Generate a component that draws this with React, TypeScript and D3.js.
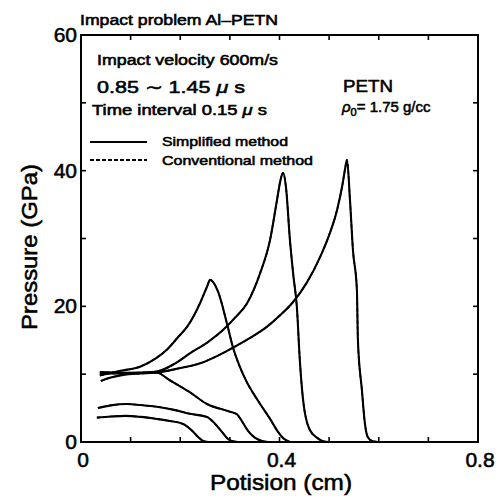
import React from "react";
import * as d3 from "d3";

// Pressure profiles (position cm, pressure GPa) at successive times, 0.85 ~ 1.45 us
const curveA: [number, number][] = [
  [0.032, 3.6], [0.06, 3.75], [0.09, 3.85], [0.12, 3.7], [0.153, 3.4], [0.179, 3.1],
  [0.206, 2.65], [0.224, 1.65], [0.236, 0.75], [0.246, 0.15], [0.256, 0],
];
const curveB: [number, number][] = [
  [0.034, 5.0], [0.06, 5.4], [0.093, 5.6], [0.12, 5.45], [0.153, 5.2], [0.19, 4.7],
  [0.22, 4.15], [0.254, 3.7], [0.27, 2.7], [0.284, 1.5], [0.296, 0.45], [0.306, 0.1], [0.316, 0],
];
const curveC: [number, number][] = [
  [0.04, 9.0], [0.06, 9.5], [0.085, 9.9], [0.12, 10.1], [0.153, 10.2], [0.179, 9.1],
  [0.22, 7.3], [0.254, 5.6], [0.294, 4.6], [0.314, 4.1], [0.324, 3.1], [0.337, 1.6],
  [0.351, 0.6], [0.365, 0.15], [0.377, 0],
];
const curveD: [number, number][] = [
  [0.038, 9.8], [0.08, 10.5], [0.119, 11.1], [0.15, 12.3], [0.173, 13.6], [0.195, 15.4],
  [0.214, 17.0], [0.228, 18.7], [0.24, 20.5], [0.254, 22.9], [0.26, 23.9], [0.276, 22.2],
  [0.294, 17.5], [0.306, 14.0], [0.32, 11.1], [0.335, 8.7], [0.347, 7.2],
  [0.361, 5.6], [0.381, 3.4], [0.397, 1.5], [0.407, 0.6], [0.421, 0],
];
const curveE: [number, number][] = [
  [0.038, 10.1], [0.09, 10.1], [0.153, 10.4], [0.19, 11.6], [0.22, 13.1], [0.255, 14.7],
  [0.286, 16.5], [0.31, 18.3], [0.335, 20.5], [0.361, 24.9], [0.381, 29.8], [0.395, 35.7],
  [0.402, 38.6], [0.407, 39.7], [0.413, 37.6], [0.421, 29.8], [0.428, 24.5], [0.435, 19.9],
  [0.441, 12.0], [0.445, 8.1], [0.45, 4.8], [0.455, 3.0], [0.461, 1.8], [0.476, 0.6],
  [0.486, 0.15], [0.498, 0],
];
const curveF: [number, number][] = [
  [0.038, 10.3], [0.09, 10.2], [0.153, 10.3], [0.2, 10.9], [0.24, 11.6], [0.275, 12.7],
  [0.306, 13.9], [0.34, 15.3], [0.375, 17.0], [0.4, 18.6], [0.427, 20.6], [0.455, 23.5],
  [0.482, 27.3], [0.5, 30.5], [0.516, 34.2], [0.527, 38.0], [0.532, 40.2],
  [0.536, 41.6], [0.542, 35.7], [0.548, 28.3], [0.556, 22.4], [0.558, 15.0], [0.566, 7.7],
  [0.572, 2.8], [0.578, 0.7], [0.588, 0.1], [0.598, 0],
];
const simplifiedSeries = [curveA, curveB, curveC, curveD, curveE, curveF];
const conventionalSeries = [curveA, curveB, curveC, curveD, curveE, curveF];

const xTickValues = [0, 0.1, 0.2, 0.3, 0.4, 0.5, 0.6, 0.7, 0.8];
const xTickLabels = ["0", "0.4", "0.8"];
const yTickValues = [0, 10, 20, 30, 40, 50, 60];
const yTickLabels = ["0", "20", "40", "60"];

const W = 498, H = 498;
const M = { left: 81, right: 478, top: 35, bottom: 442 };
const FONT = "'Liberation Sans', Arial, Helvetica, sans-serif";

export default function App() {
  const x = d3.scaleLinear().domain([0, 0.8]).range([M.left, M.right]);
  const y = d3.scaleLinear().domain([0, 60]).range([M.bottom, M.top]);
  const line = d3
    .line<[number, number]>()
    .x((d) => x(d[0]))
    .y((d) => y(d[1]))
    .curve(d3.curveMonotoneX);
  const tick = 5;
  const txt = { fontFamily: FONT, fill: "#000", stroke: "#000", strokeWidth: 0.55 } as const;

  return (
    <svg width={W} height={H} style={{ position: "absolute", left: 0, top: 0, background: "#fff" }}>
      <rect x={0} y={0} width={W} height={H} fill="#fff" />
      {/* curves */}
      {simplifiedSeries.map((s, i) => (
        <path key={"s" + i} d={line(s) || ""} fill="none" stroke="#000" strokeWidth={2.1} strokeLinejoin="round" />
      ))}
      {conventionalSeries.map((s, i) => (
        <path key={"c" + i} d={line(s) || ""} fill="none" stroke="#000" strokeWidth={1.6} strokeDasharray="4,2" />
      ))}
      {/* frame */}
      <rect x={M.left} y={M.top} width={M.right - M.left} height={M.bottom - M.top} fill="none" stroke="#000" strokeWidth={2} />
      {xTickValues.map((v) => (
        <g key={"xt" + v}>
          <line x1={x(v)} x2={x(v)} y1={M.bottom} y2={M.bottom - tick} stroke="#000" strokeWidth={1.6} />
          <line x1={x(v)} x2={x(v)} y1={M.top} y2={M.top + tick} stroke="#000" strokeWidth={1.6} />
        </g>
      ))}
      {yTickValues.map((v) => (
        <g key={"yt" + v}>
          <line x1={M.left} x2={M.left + tick} y1={y(v)} y2={y(v)} stroke="#000" strokeWidth={1.6} />
          <line x1={M.right} x2={M.right - tick} y1={y(v)} y2={y(v)} stroke="#000" strokeWidth={1.6} />
        </g>
      ))}
      {/* tick labels */}
      {xTickLabels.map((t) => (
        <text key={"xl" + t} x={x(+t) + 2} y={467} textAnchor="middle" fontSize={21} {...txt}>
          {t}
        </text>
      ))}
      {yTickLabels.map((t) => (
        <text key={"yl" + t} x={M.left - 4} y={y(+t) + 7} textAnchor="end" fontSize={21} {...txt}>
          {t}
        </text>
      ))}
      {/* axis titles */}
      <text x={281} y={490} textAnchor="middle" fontSize={22} textLength={142} lengthAdjust="spacingAndGlyphs" {...txt}>
        Potision (cm)
      </text>
      <text transform="translate(37,247) rotate(-90)" textAnchor="middle" fontSize={22} textLength={166} lengthAdjust="spacingAndGlyphs" {...txt}>
        Pressure (GPa)
      </text>
      {/* title */}
      <text x={80} y={25} fontSize={14} textLength={198} lengthAdjust="spacingAndGlyphs" {...txt}>
        Impact problem Al–PETN
      </text>
      {/* annotations */}
      <text x={97} y={65} fontSize={14} textLength={181} lengthAdjust="spacingAndGlyphs" {...txt}>
        Impact velocity 600m/s
      </text>
      <text x={97} y={93} fontSize={17} textLength={148} lengthAdjust="spacingAndGlyphs" {...txt}>
        0.85 ∼ 1.45 <tspan fontStyle="italic">μ</tspan> s
      </text>
      <text x={92} y={115} fontSize={14} textLength={175} lengthAdjust="spacingAndGlyphs" {...txt}>
        Time interval 0.15 <tspan fontStyle="italic">μ</tspan> s
      </text>
      <line x1={90} x2={147} y1={142} y2={142} stroke="#000" strokeWidth={2} />
      <text x={162} y={146} fontSize={13} textLength={126} lengthAdjust="spacingAndGlyphs" {...txt}>
        Simplified method
      </text>
      <line x1={90} x2={147} y1={160} y2={160} stroke="#000" strokeWidth={2} strokeDasharray="4,2" />
      <text x={162} y={165} fontSize={13} textLength={151} lengthAdjust="spacingAndGlyphs" {...txt}>
        Conventional method
      </text>
      <text x={343} y={92} fontSize={17} textLength={50} lengthAdjust="spacingAndGlyphs" {...txt}>
        PETN
      </text>
      <text x={342} y={112} fontSize={15} {...txt}>
        <tspan fontStyle="italic">ρ</tspan>
        <tspan fontSize={11} dy={4}>0</tspan>
        <tspan dy={-4}>= 1.75 g/cc</tspan>
      </text>
    </svg>
  );
}
